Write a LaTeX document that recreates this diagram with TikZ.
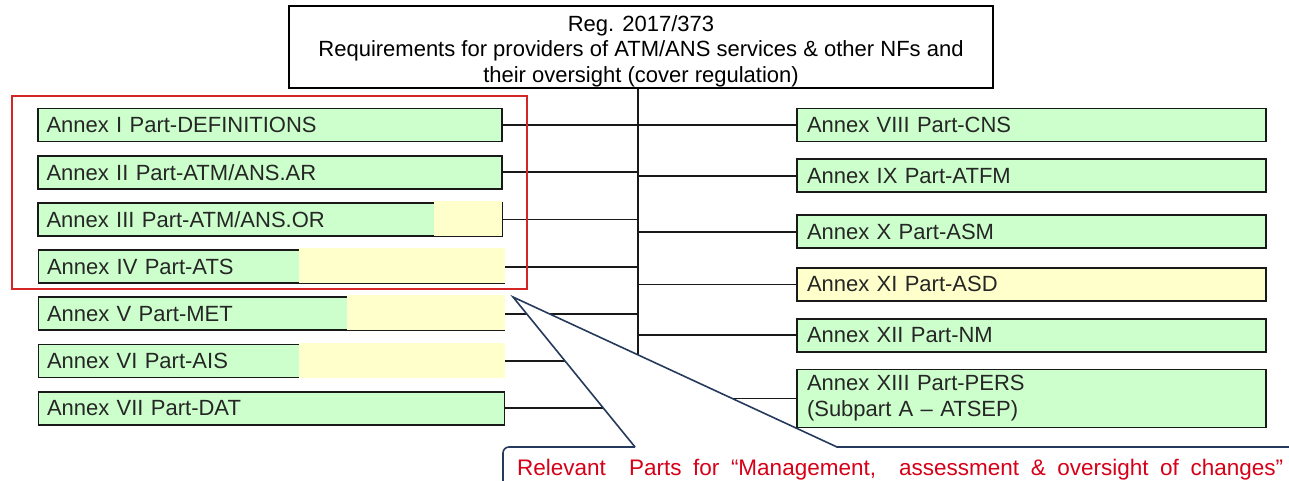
\documentclass[tikz,border=0pt]{standalone}
\usepackage{fontspec}
\setmainfont{Liberation Sans}
\newfontfamily\calloutfont[WordSpace=1.85]{Liberation Sans}
\usetikzlibrary{positioning}
\definecolor{annexGreen}{RGB}{204,255,204}
\definecolor{annexYellow}{RGB}{255,255,204}
\definecolor{frameRed}{RGB}{212,38,38}
\definecolor{calloutNavy}{RGB}{38,58,92}
\definecolor{calloutRed}{RGB}{214,0,24}
\tikzset{
    objRegulation/.style={rectangle, minimum width=704pt, minimum height=82pt, inner ysep=0pt, text centered, draw=black, line width=1.8pt, align=center, font=\fontsize{22}{25.5}\selectfont},
    objAnnexLeft/.style={rectangle, minimum height=33pt, draw=black!90, fill=annexGreen, line width=1.8pt, text=black!85, text width=447pt, inner xsep=8.5pt, inner ysep=0pt, align=left, font=\fontsize{22}{26}\selectfont},
    objAnnexRight/.style={objAnnexLeft, text width=449pt, inner xsep=10pt},
    connector/.style={draw=black!90, line width=1.8pt},
    redFrame/.style={draw=frameRed, line width=1.5pt},
    calloutLine/.style={draw=calloutNavy, line width=1.6pt},
    calloutText/.style={text=calloutRed, font=\calloutfont\fontsize{22.5}{26}\selectfont, inner sep=0pt}
}
\begin{document}
\begin{tikzpicture}[x=1pt, y=-1pt, node distance=47.2pt]
  \useasboundingbox (0,0) rectangle (1289,481);

  \node (reg) [objRegulation] at (641,47) {\rule{0pt}{24pt}Reg. 2017/373\\Requirements for providers of ATM/ANS services \& other NFs and\\their oversight (cover regulation)};

  % left column
  \node (a1) [objAnnexLeft] at (270,125) {Annex I Part-DEFINITIONS};
  \node (a2) [objAnnexLeft, below of=a1] {Annex II Part-ATM/ANS.AR};
  \node (a3) [objAnnexLeft, below of=a2] {Annex III Part-ATM/ANS.OR};
  \node (a4) [objAnnexLeft, below of=a3, xshift=1.5pt, text width=449pt] {Annex IV Part-ATS};
  \node (a5) [objAnnexLeft, below of=a4, text width=449pt] {Annex V Part-MET};
  \node (a6) [objAnnexLeft, below of=a5, text width=449pt] {Annex VI Part-AIS};
  \node (a7) [objAnnexLeft, below of=a6, text width=449pt] {Annex VII Part-DAT};

  % right column
  \node (r8) [objAnnexRight] at (1031.5,125) {Annex VIII Part-CNS};
  \node (r9) [objAnnexRight, below=16pt of r8] {Annex IX Part-ATFM};
  \node (r10) [objAnnexRight, below=21pt of r9] {Annex X Part-ASM};
  \node (r11) [objAnnexRight, below=18pt of r10, fill=annexYellow] {Annex XI Part-ASD};
  \node (r12) [objAnnexRight, below=16pt of r11] {Annex XII Part-NM};
  \node (r13) [objAnnexRight, below=16pt of r12, minimum height=58pt] {Annex XIII Part-PERS\\(Subpart A – ATSEP)};

  % partly relevant annexes
  \fill[annexYellow] (a3.south west -| 434,0) ++(0,-0.9) rectangle ([xshift=-0.9pt, yshift=1pt]a3.north east);
  \fill[annexYellow] (a4.south west -| 299,0) ++(0,-0.9) rectangle ([xshift=-0.9pt, yshift=1pt]a4.north east);
  \fill[annexYellow] (a5.south west -| 347,0) ++(0,-0.9) rectangle ([xshift=-0.9pt, yshift=1pt]a5.north east);
  \fill[annexYellow] (a6.south west -| 299,0) ++(0,-0.9) rectangle ([xshift=-0.9pt, yshift=1pt]a6.north east);

  \coordinate (trunkTop) at ([xshift=-3pt]reg.south);
  \draw[connector] (trunkTop) -- (trunkTop |- a7.east);

  \draw[connector] (a1.east) -- (a1.east -| trunkTop);
  \draw[connector] (a2.east) -- (a2.east -| trunkTop);
  \draw[connector] (a3.east) -- (a3.east -| trunkTop);
  \draw[connector] (a4.east) -- (a4.east -| trunkTop);
  \draw[connector] (a5.east) -- (a5.east -| trunkTop);
  \draw[connector] (a6.east) -- (a6.east -| trunkTop);
  \draw[connector] (a7.east) -- (a7.east -| trunkTop);

  \draw[connector] (trunkTop |- r8.west) -- (r8.west);
  \draw[connector] (trunkTop |- r9.west) -- (r9.west);
  \draw[connector] (trunkTop |- r10.west) -- (r10.west);
  \draw[connector] (trunkTop |- r11.west) -- (r11.west);
  \draw[connector] (trunkTop |- r12.west) -- (r12.west);
  \draw[connector] (trunkTop |- r13.west) -- (r13.west);

  \draw[redFrame] (12,96) rectangle (527,289);

  % callout
  \coordinate (calloutTip) at (513,297);
  \fill[white, rounded corners=6pt] (503,500) -- (503,447) -- (1300,447) -- (1300,500) -- cycle;
  \fill[white] (635,447) -- (calloutTip) -- (837,447) -- cycle;
  \draw[calloutLine, rounded corners=6pt] (503,500) -- (503,447) -- (635,447);
  \draw[calloutLine] (635,447) -- (calloutTip) -- (837,447) -- (1300,447);
  \node (callout) [calloutText, anchor=base west] at (517,475) {Relevant\ \ Parts for “Management,\ \ assessment \& oversight of changes”};
\end{tikzpicture}
\end{document}
